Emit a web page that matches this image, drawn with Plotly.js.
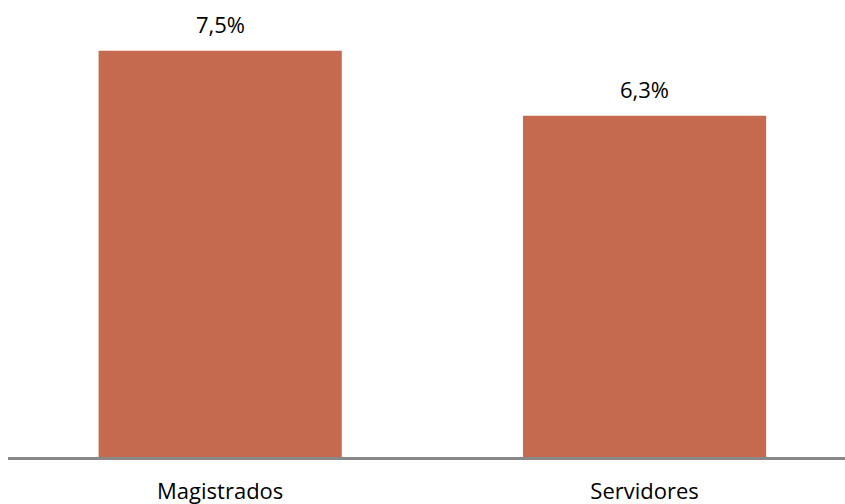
<!DOCTYPE html>
<html>
<head>
<meta charset="utf-8">
<script src="https://cdn.plot.ly/plotly-3.0.1.min.js"></script>
<style>html,body{margin:0;padding:0;background:#fff;}#chart{width:845px;height:504px;}</style>
</head>
<body>
<div id="chart"></div>
<script>
const categories = ["Magistrados", "Servidores"];
const values = [7.5, 6.3];
const valueLabels = ["7,5%", "6,3%"];

const font = {family: "'Open Sans', Lato, sans-serif", size: 22, color: "#000"};

const trace = {
  type: "bar",
  x: categories,
  y: values,
  width: 0.573,
  marker: {color: "#C5694F", line: {width: 0}},
  hoverinfo: "none"
};

const annotations = categories.map((c, i) => ({
  x: c, y: values[i], xref: "x", yref: "y",
  text: valueLabels[i], showarrow: false,
  yanchor: "middle", yshift: 27, font: font
}));

const layout = {
  width: 845, height: 504,
  margin: {l: 8, r: 0, t: 20, b: 47},
  paper_bgcolor: "#fff", plot_bgcolor: "#fff",
  showlegend: false,
  font: font,
  xaxis: {
    type: "category",
    range: [-0.5, 1.4723],
    showgrid: false, zeroline: false,
    showline: true, linecolor: "#888888", linewidth: 2.5,
    ticks: "", ticklabelstandoff: 13,
    tickfont: font
  },
  yaxis: {
    range: [0, 8.07],
    visible: false, showgrid: false, zeroline: false
  },
  annotations: annotations
};

Plotly.newPlot("chart", [trace], layout, {staticPlot: true, displayModeBar: false});
</script>
</body>
</html>
